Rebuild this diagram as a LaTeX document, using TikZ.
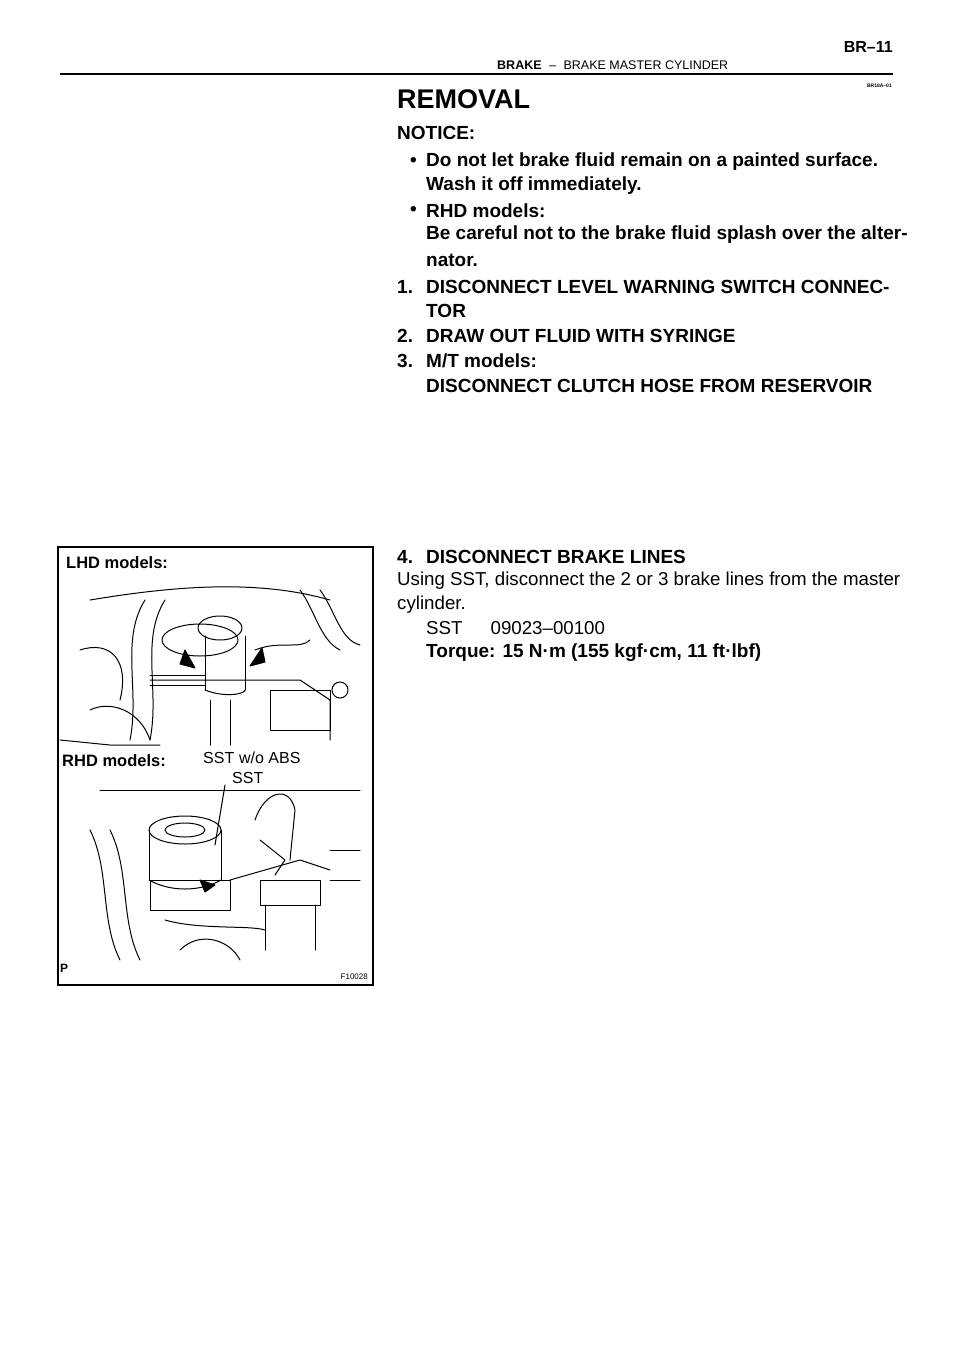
\documentclass[tikz,border=0pt]{standalone}
\usepackage{fontspec}
\setmainfont{Liberation Sans}
\begin{document}
\begin{tikzpicture}[x=1pt,y=-1pt,
  txt/.style={anchor=west,inner sep=0pt,font=\fontsize{19}{20}\selectfont\bfseries},
  rtxt/.style={anchor=west,inner sep=0pt,font=\fontsize{18.7}{20}\selectfont},
  art/.style={line width=1pt,line join=round,line cap=round},
  lbl/.style={anchor=west,inner sep=0pt,font=\fontsize{16}{17}\selectfont}]
\useasboundingbox (0,0) rectangle (960,1358);
% header
\node[anchor=east,inner sep=0pt,font=\fontsize{16}{17}\selectfont\bfseries] (pg) at (893,47) {BR--11};
\node[anchor=west,inner sep=0pt,font=\fontsize{12.5}{14}\selectfont] (hd) at (497,65) {\textbf{BRAKE}\hspace{0.6em}--\hspace{0.6em}BRAKE MASTER CYLINDER};
\draw[line width=2pt] (60,74) -- (893,74);
\node[anchor=east,inner sep=0pt,font=\fontsize{5}{6}\selectfont\bfseries] (code) at (892,86) {BR18A--01};
% text
\node[txt,font=\fontsize{27}{30}\selectfont\bfseries] (rem) at (397,99) {REMOVAL};
\node[txt] (n) at (397,133) {NOTICE:};
\node[txt] (b1) at (410,162) {\textbullet};
\node[txt] (t1) at (426,162) {Do not let brake fluid remain on a painted surface.};
\node[txt] (t1b) at (426,186) {Wash it off immediately.};
\node[txt] (b2) at (410,211) {\textbullet};
\node[txt] (t2) at (426,211) {RHD models:};
\node[txt] (t2b) at (426,235) {Be careful not to the brake fluid splash over the alter-};
\node[txt] (t2c) at (426,260) {nator.};
\node[txt] (s1) at (397,287) {1.};
\node[txt] (s1t) at (426,287) {DISCONNECT LEVEL WARNING SWITCH CONNEC-};
\node[txt] (s1b) at (426,311) {TOR};
\node[txt] (s2) at (397,336) {2.};
\node[txt] (s2t) at (426,336) {DRAW OUT FLUID WITH SYRINGE};
\node[txt] (s3) at (397,361) {3.};
\node[txt] (s3t) at (426,361) {M/T models:};
\node[txt] (s3b) at (426,386) {DISCONNECT CLUTCH HOSE FROM RESERVOIR};
\node[txt] (s4) at (397,557) {4.};
\node[txt] (s4t) at (426,557) {DISCONNECT BRAKE LINES};
\node[rtxt] (u1) at (397,581) {Using SST, disconnect the 2 or 3 brake lines from the master};
\node[rtxt] (u2) at (397,605) {cylinder.};
\node[rtxt] (u3) at (426,628) {SST\hspace{1.5em}09023--00100};
\node[txt] (u4) at (426,653) {Torque: 15 N{\textperiodcentered}m (155 kgf{\textperiodcentered}cm, 11 ft{\textperiodcentered}lbf)};
% figure box
\draw[line width=1.2pt] (58,547) rectangle (373,985);
\node[txt,font=\fontsize{16.5}{17}\selectfont\bfseries] (lhd) at (66,563) {LHD models:};
% LHD sketch
\begin{scope}[art]
\draw (90,600) .. controls (180,585) and (260,580) .. (330,600);
\draw (200,640) ellipse (38 and 16); \draw (220,628) ellipse (22 and 12);
\draw (205,636) -- (205,690); \draw (245,636) -- (245,690);
\draw (205,690) .. controls (225,698) and (245,694) .. (245,690);
\draw (150,680) -- (300,680) -- (330,700) -- (330,740);
\draw (145,600) .. controls (120,640) and (140,690) .. (130,740);
\draw (165,600) .. controls (140,640) and (160,690) .. (150,740);
\draw (80,650) .. controls (110,640) and (130,660) .. (120,700);
\draw (255,650) .. controls (280,640) and (300,650) .. (310,640);
\draw (300,590) .. controls (315,610) and (320,640) .. (340,650);
\draw (320,590) .. controls (335,610) and (340,640) .. (360,645);
\draw (150,675) -- (205,675); \draw (150,685) -- (205,685);
\draw (270,690) rectangle (330,730);
\draw (210,700) -- (210,745); \draw (230,700) -- (230,745);
\draw (90,710) .. controls (110,700) and (140,710) .. (150,740);
\draw (60,740) -- (110,745) -- (160,745);
\draw[fill=black] (185,650) -- (195,668) -- (180,664) -- cycle;
\draw[fill=black] (262,648) -- (250,666) -- (265,662) -- cycle;
\draw (340,690) circle (8);
\end{scope}
\node[txt,font=\fontsize{16.5}{17}\selectfont\bfseries] (rhd) at (62,761) {RHD models:};
\node[lbl] (sst1) at (203,758) {SST\hspace{0.3em}w/o ABS};
\node[lbl] (sst2) at (232,778) {SST};
% RHD sketch
\begin{scope}[art]
\draw (100,790) -- (360,790);
\draw (185,830) ellipse (36 and 14); \draw (185,830) ellipse (20 and 7);
\draw (149,830) -- (149,880); \draw (221,830) -- (221,880);
\draw (149,880) .. controls (170,892) and (200,892) .. (221,880);
\draw (150,880) rectangle (230,910);
\draw (230,880) -- (300,860) -- (330,870);
\draw (255,820) .. controls (265,790) and (290,785) .. (295,810) -- (290,860);
\draw (260,840) -- (285,860) -- (275,875);
\draw (260,880) rectangle (320,905);
\draw (265,905) -- (265,950); \draw (315,905) -- (315,950);
\draw (90,830) .. controls (110,870) and (100,920) .. (120,960);
\draw (110,830) .. controls (130,870) and (120,920) .. (140,960);
\draw (165,920) .. controls (200,930) and (250,925) .. (265,930);
\draw (330,850) -- (360,850); \draw (330,880) -- (360,880);
\draw (225,785) -- (215,845);
\draw (180,950) .. controls (200,930) and (230,940) .. (240,960);
\draw[fill=black] (200,880) -- (215,885) -- (205,892) -- cycle;
\end{scope}
\node[anchor=west,inner sep=0pt,font=\fontsize{12}{13}\selectfont\bfseries] (p) at (60,968) {P};
\node[anchor=east,inner sep=0pt,font=\fontsize{8}{9}\selectfont] (f) at (368,977) {F10028};
\end{tikzpicture}
\end{document}
